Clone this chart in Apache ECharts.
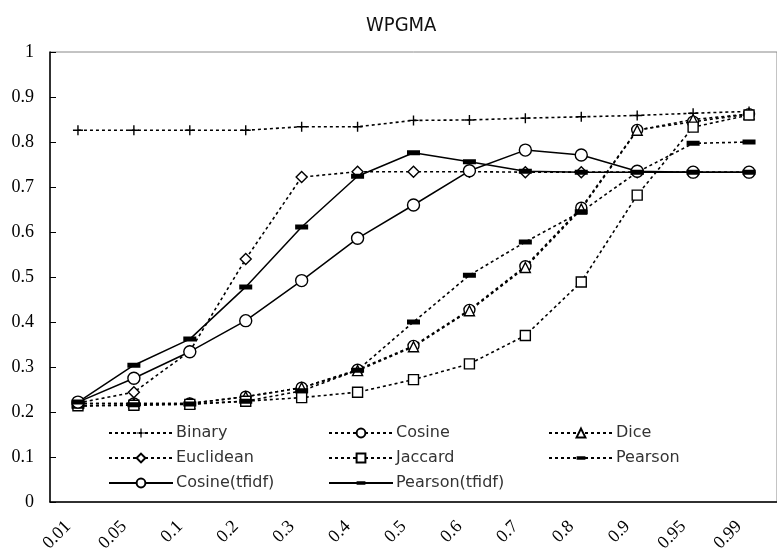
<!DOCTYPE html>
<html>
<head>
<meta charset="utf-8">
<script src="https://cdn.jsdelivr.net/npm/echarts@6/dist/echarts.min.js"></script>
<style>
  html, body { margin: 0; padding: 0; background: #fff; }
  #chart { width: 777px; height: 559px; }
</style>
</head>
<body>
<div id="chart"></div>
<script>
// Threshold values on the x axis
const categories = ['0.01','0.05','0.1','0.2','0.3','0.4','0.5','0.6','0.7','0.8','0.9','0.95','0.99'];

// Scores per similarity measure
const binary       = [0.826,0.826,0.826,0.826,0.834,0.834,0.848,0.849,0.853,0.856,0.859,0.864,0.868];
const cosine       = [0.219,0.219,0.219,0.234,0.254,0.294,0.347,0.427,0.524,0.654,0.827,0.845,0.862];
const dice         = [0.219,0.219,0.219,0.234,0.254,0.292,0.345,0.425,0.521,0.651,0.826,0.850,0.862];
const euclidean    = [0.220,0.244,0.335,0.540,0.722,0.734,0.734,0.734,0.733,0.733,0.733,0.733,0.733];
const jaccard      = [0.214,0.215,0.217,0.224,0.232,0.244,0.272,0.307,0.370,0.489,0.682,0.833,0.860];
const pearson      = [0.213,0.216,0.218,0.224,0.247,0.293,0.400,0.504,0.578,0.645,0.733,0.797,0.800];
const cosineTfidf  = [0.222,0.275,0.334,0.403,0.492,0.586,0.660,0.736,0.782,0.771,0.735,0.733,0.733];
const pearsonTfidf = [0.222,0.304,0.362,0.478,0.611,0.724,0.776,0.756,0.735,0.733,0.733,0.733,0.733];

// Marker shapes: a thin plus, and a flat bar kept inside a square box so it
// stays flat in the legend too.
const PLUS = 'path://M4.3,0 H5.7 V4.3 H10 V5.7 H5.7 V10 H4.3 V5.7 H0 V4.3 H4.3 Z';
const BAR  = 'path://M0,0 L0,0.01 M0,4 H13 V9 H0 Z M13,12.99 L13,13';

function dashed(name, data, symbol, size, filled) {
  return {
    name, type: 'line', data, symbol, symbolSize: size,
    lineStyle: { color: '#000', width: 1.6, type: [3, 3] },
    itemStyle: filled
      ? { color: '#000', borderColor: '#000', borderWidth: 0 }
      : { color: '#fff', borderColor: '#000', borderWidth: 1.4 },
    emphasis: { disabled: true }, animation: false
  };
}
function solid(name, data, symbol, size, filled) {
  const s = dashed(name, data, symbol, size, filled);
  s.lineStyle = { color: '#000', width: 1.5, type: 'solid' };
  return s;
}

const legendBase = {
  orient: 'vertical', itemWidth: 64, itemHeight: 11, itemGap: 9,
  textStyle: { fontFamily: 'DejaVu Sans', fontSize: 16, color: '#333', padding: [0,0,0,-2] },
  selectedMode: false
};

const chart = echarts.init(document.getElementById('chart'), null, { renderer: 'canvas' });
chart.setOption({
  animation: false,
  backgroundColor: '#fff',
  title: {
    text: 'WPGMA', left: 361, top: 11,
    textStyle: { fontFamily: "'Liberation Sans Narrow', 'DejaVu Sans Condensed', sans-serif", fontSize: 20, fontWeight: 'normal', color: '#111' }
  },
  grid: { left: 50, top: 52, width: 735, height: 450, show: true, borderColor: '#888', borderWidth: 1, backgroundColor: 'transparent' },
  legend: [
    Object.assign({}, legendBase, { left: 103, top: 420, data: ['Binary','Euclidean','Cosine(tfidf)'] }),
    Object.assign({}, legendBase, { left: 323, top: 420, data: ['Cosine','Jaccard','Pearson(tfidf)'] }),
    Object.assign({}, legendBase, { left: 543, top: 420, data: ['Dice','Pearson'] })
  ],
  xAxis: {
    type: 'category', data: categories, boundaryGap: true,
    axisLine: { lineStyle: { color: '#000', width: 1.5 } },
    axisTick: { inside: true, length: 5, lineStyle: { color: '#000' } },
    axisLabel: { rotate: 45, margin: 12, padding: [0, 14, 0, 0], fontFamily: 'Liberation Serif', fontSize: 18, color: '#000' },
    splitLine: { show: false }
  },
  yAxis: {
    type: 'value', min: 0, max: 1, interval: 0.1,
    axisLine: { show: true, lineStyle: { color: '#000', width: 1.5 } },
    axisTick: { show: true, inside: true, length: 6, lineStyle: { color: '#000' } },
    axisLabel: { margin: 16, fontFamily: 'Liberation Serif', fontSize: 18, color: '#000' },
    splitLine: { show: false }
  },
  series: [
    dashed('Binary', binary, PLUS, 10, true),
    dashed('Cosine', cosine, 'circle', 11, false),
    dashed('Dice', dice, 'triangle', 10, false),
    dashed('Euclidean', euclidean, 'diamond', 11, false),
    dashed('Jaccard', jaccard, 'rect', 10, false),
    dashed('Pearson', pearson, BAR, 13, true),
    solid('Cosine(tfidf)', cosineTfidf, 'circle', 12, false),
    solid('Pearson(tfidf)', pearsonTfidf, BAR, 13, true)
  ]
});
</script>
</body>
</html>
